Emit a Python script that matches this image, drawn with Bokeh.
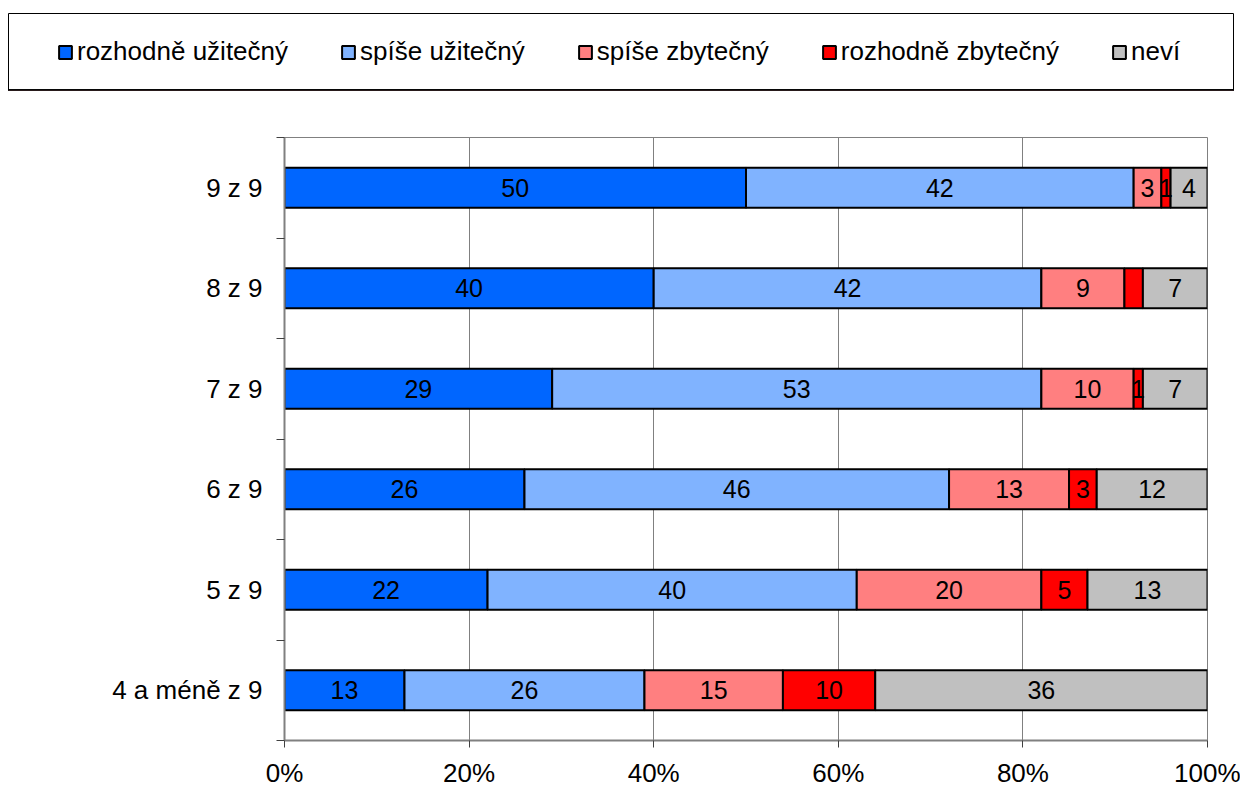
from bokeh.plotting import figure
from bokeh.models import ColumnDataSource, FixedTicker, PrintfTickFormatter
from bokeh.core.properties import value
from bokeh.embed import file_html
from bokeh.resources import INLINE

# ---- data ----
categories = ["4 a méně z 9", "5 z 9", "6 z 9", "7 z 9", "8 z 9", "9 z 9"]
series = ["rozhodně užitečný", "spíše užitečný", "spíše zbytečný", "rozhodně zbytečný", "neví"]
rozhodne_uzitecny = [13, 22, 26, 29, 40, 50]
spise_uzitecny = [26, 40, 46, 53, 42, 42]
spise_zbytecny = [15, 20, 13, 10, 9, 3]
rozhodne_zbytecny = [10, 5, 3, 1, 2, 1]
nevi = [36, 13, 12, 7, 7, 4]
x_ticks = [0, 20, 40, 60, 80, 100]
hidden_labels = [("8 z 9", "rozhodně zbytečný")]
colors = ["#0066FF", "#80B3FF", "#FF7F80", "#FF0000", "#C0C0C0"]

values = [rozhodne_uzitecny, spise_uzitecny, spise_zbytecny, rozhodne_zbytecny, nevi]
FONT = "Liberation Sans"
W = 1240

# ---- legend strip (separate root, so its box is not aligned to the chart frame) ----
lf = figure(width=W, height=100, x_axis_type=None, y_axis_type=None,
            x_range=(0, 1), y_range=(0, 1),
            output_backend="svg", toolbar_location=None,
            min_border_left=8, min_border_right=7, min_border_top=13, min_border_bottom=10)
lf.outline_line_color = "black"
lf.outline_line_width = 1
lf.xgrid.visible = False
lf.ygrid.visible = False
# legend keys: one off-range row per series so each key has a style to draw
key_src = ColumnDataSource(dict(y=[-1.0], left=[0.0], right=[1.0]))
for s, col in zip(series, colors):
    lf.hbar(y="y", left="left", right="right", height=0.4, source=key_src,
            fill_color=col, line_color="black", line_width=2, legend_label=s)
lg = lf.legend[0]
lg.orientation = "horizontal"
lg.location = (49, 23)
lg.border_line_color = None
lg.background_fill_alpha = 0
lg.padding = 0
lg.margin = 0
lg.spacing = 52
lg.label_standoff = 4
lg.glyph_width = 16
lg.glyph_height = 16
lg.label_height = 30
lg.label_text_font = FONT
lg.label_text_font_size = "26px"
lg.label_text_color = "black"

# ---- main chart ----
p = figure(width=W, height=690, x_range=(0, 100), y_range=(0, len(categories)),
           output_backend="svg", toolbar_location=None,
           min_border_left=284, min_border_right=33, min_border_top=37, min_border_bottom=45)
p.background_fill_color = "white"
p.border_fill_color = "white"
p.outline_line_color = "#808080"
p.outline_line_width = 1

centers = [i + 0.5 for i in range(len(categories))]
left = [0] * len(categories)
lab_x, lab_y, lab_t = [], [], []
for s, vals, col in zip(series, values, colors):
    right = [l + v for l, v in zip(left, vals)]
    src = ColumnDataSource(dict(y=centers, left=left, right=right))
    p.hbar(y="y", left="left", right="right", height=0.4, source=src,
           fill_color=col, line_color="black", line_width=2)
    for c, cat, l, v in zip(centers, categories, left, vals):
        lab_x.append(l + v / 2)
        lab_y.append(c)
        lab_t.append("" if (cat, s) in hidden_labels else str(v))
    left = right

p.text(x="x", y="y", text="t", source=ColumnDataSource(dict(x=lab_x, y=lab_y, t=lab_t)),
       text_font=value(FONT), text_font_size="25px", text_color="black",
       text_align="center", text_baseline="middle")

xa = p.xaxis[0]
xa.ticker = FixedTicker(ticks=x_ticks)
xa.formatter = PrintfTickFormatter(format="%d%%")
xa.axis_line_color = "#808080"
xa.axis_line_width = 2
xa.major_tick_line_color = "#404040"
xa.major_tick_out = 7
xa.major_tick_in = 0
xa.minor_tick_line_color = None
xa.major_label_text_font = FONT
xa.major_label_text_font_size = "26px"
xa.major_label_text_color = "black"
xa.major_label_standoff = 10

ya = p.yaxis[0]
ya.ticker = FixedTicker(ticks=centers, minor_ticks=list(range(len(categories) + 1)))
ya.major_label_overrides = {c: cat for c, cat in zip(centers, categories)}
ya.axis_line_color = "#808080"
ya.axis_line_width = 2
ya.major_tick_line_color = None
ya.major_tick_out = 0
ya.major_tick_in = 0
ya.minor_tick_line_color = "#404040"
ya.minor_tick_out = 8
ya.minor_tick_in = 0
ya.major_label_text_font = FONT
ya.major_label_text_font_size = "26px"
ya.major_label_text_color = "black"
ya.major_label_standoff = 14

p.xgrid.grid_line_color = "#808080"
p.xgrid.grid_line_width = 1
p.ygrid.grid_line_color = None

open("out.html", "w").write(file_html([lf, p], INLINE))
